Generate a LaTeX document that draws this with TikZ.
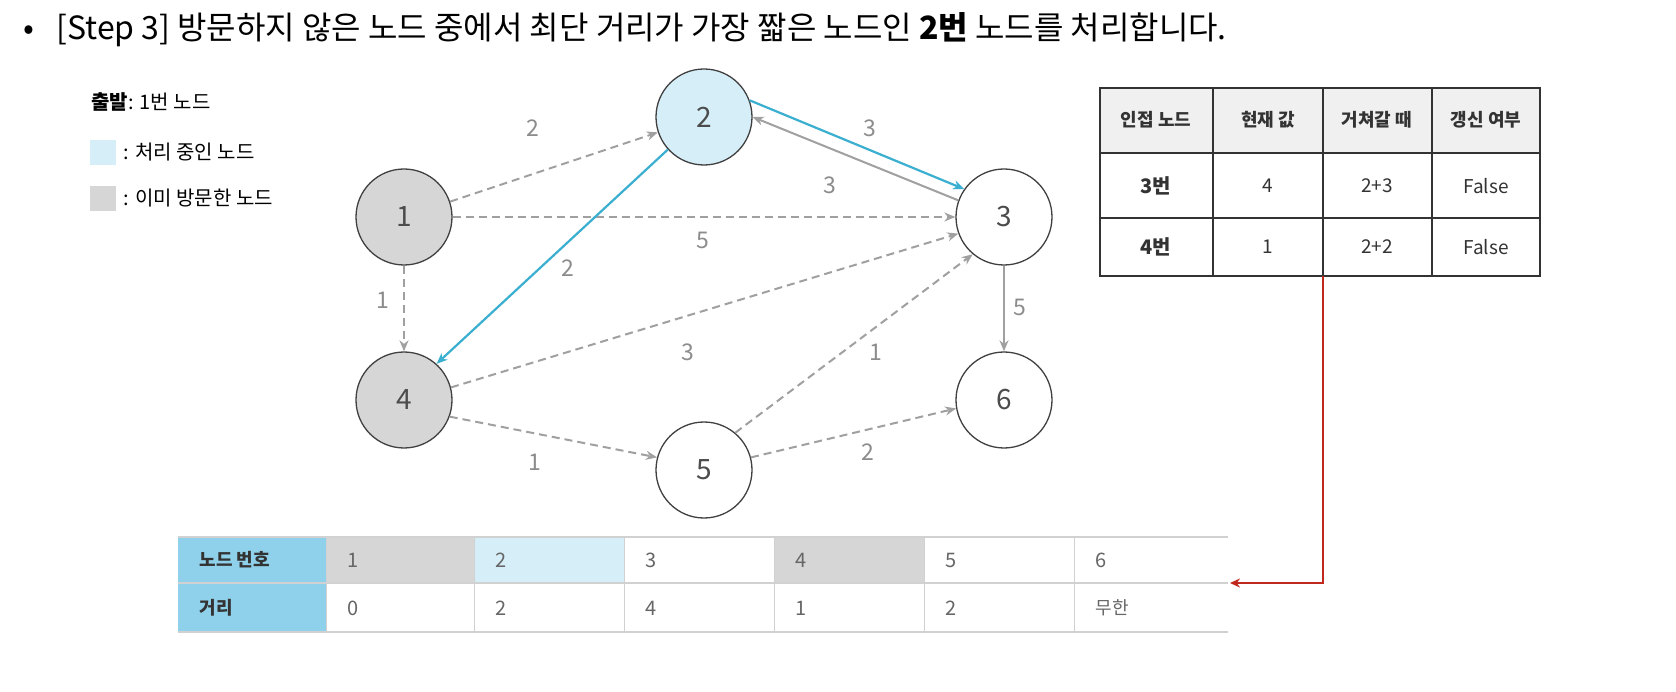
\documentclass[tikz,border=0pt]{standalone}
\usepackage{fontspec}
\setmainfont{Noto Sans CJK KR}
\usetikzlibrary{arrows.meta}
\definecolor{lblue}{HTML}{D6EEF8}
\definecolor{lgray}{HTML}{D6D6D6}
\definecolor{sky}{HTML}{8FD1EA}
\definecolor{edgeg}{HTML}{A0A0A0}
\definecolor{hl}{HTML}{3AAFD0}
\definecolor{redl}{HTML}{C0281E}
\begin{document}
\begin{tikzpicture}[x=1pt,y=-1pt,
 gnode/.style={circle,draw=black!75,line width=1.3pt,minimum size=96pt,inner sep=0pt,font=\fontsize{28}{32}\selectfont,text=black!70},
 dedge/.style={draw=edgeg,dashed,dash pattern=on 8pt off 5pt,line width=2pt,-{Stealth[length=11pt,width=9pt]}},
 sedge/.style={draw=edgeg,line width=2pt,-{Stealth[length=11pt,width=9pt]}},
 bedge/.style={draw=hl,line width=2.2pt,-{Stealth[length=11pt,width=9pt]}},
 wlab/.style={text=black!45,font=\fontsize{23}{26}\selectfont},
 tcell/.style={font=\fontsize{19}{22}\selectfont,text=black!80},
 bcell/.style={font=\fontsize{20}{24}\selectfont,text=black!60,anchor=west}]
\useasboundingbox (0,0) rectangle (1676,692);
\fill[white] (0,0) rectangle (1676,692);
% title
\node[anchor=west,font=\fontsize{32}{36}\selectfont] (title) at (20,30) {•\hspace{22pt}[Step 3] 방문하지 않은 노드 중에서 최단 거리가 가장 짧은 노드인 \textbf{2번} 노드를 처리합니다.};
% legend
\node[anchor=west,font=\fontsize{20}{22}\selectfont] (lg1) at (88,102) {\textbf{출발}: 1번 노드};
\fill[lblue] (90,140) rectangle (116,165);
\node[anchor=west,font=\fontsize{20}{22}\selectfont] (lg2) at (120,152) {: 처리 중인 노드};
\fill[lgray] (90,186) rectangle (116,211);
\node[anchor=west,font=\fontsize{20}{22}\selectfont] (lg3) at (120,198) {: 이미 방문한 노드};
% nodes
\node[gnode,fill=lgray] (n1) at (404,217) {1};
\node[gnode,fill=lblue] (n2) at (704,117) {2};
\node[gnode,fill=white] (n3) at (1004,217) {3};
\node[gnode,fill=lgray] (n4) at (404,400) {4};
\node[gnode,fill=white] (n5) at (704,470) {5};
\node[gnode,fill=white] (n6) at (1004,400) {6};
% edges
\draw[dedge] (n1) -- (n2); \node[wlab] (w12) at (533,128) {2};
\draw[dedge] (n1) -- (n3); \node[wlab] (w13) at (703,240) {5};
\draw[dedge] (n1) -- (n4); \node[wlab] (w14) at (383,300) {1};
\draw[bedge] (n2.20) -- (n3.145); \node[wlab] (w23) at (870,128) {3};
\draw[sedge] (n3.160) -- (n2.0); \node[wlab] (w32) at (830,185) {3};
\draw[bedge] (n2.222) -- (n4.48); \node[wlab] (w24) at (568,268) {2};
\draw[dedge] (n4.15) -- (n3.200); \node[wlab] (w43) at (688,352) {3};
\draw[dedge] (n4.-20) -- (n5.165); \node[wlab] (w45) at (535,462) {1};
\draw[dedge] (n5.50) -- (n3.230); \node[wlab] (w53) at (876,352) {1};
\draw[dedge] (n5.15) -- (n6.190); \node[wlab] (w56) at (868,452) {2};
\draw[sedge] (n3) -- (n6); \node[wlab] (w36) at (1020,307) {5};
% right table
\fill[black!6] (1100,88) rectangle (1540,153);
\draw[black!80,line width=1.2pt] (1100,88) rectangle (1540,276);
\foreach \y in {153,218} \draw[black!80,line width=1.2pt] (1100,\y) -- (1540,\y);
\foreach \x in {1213,1323,1432} \draw[black!80,line width=1.2pt] (\x,88) -- (\x,276);
\node[tcell,font=\bfseries\fontsize{18}{22}\selectfont] (h1) at (1156,120) {인접 노드};
\node[tcell,font=\bfseries\fontsize{18}{22}\selectfont] (h2) at (1268,120) {현재 값};
\node[tcell,font=\bfseries\fontsize{18}{22}\selectfont] (h3) at (1377,120) {거쳐갈 때};
\node[tcell,font=\bfseries\fontsize{18}{22}\selectfont] (h4) at (1486,120) {갱신 여부};
\node[tcell,font=\bfseries\fontsize{20}{24}\selectfont] (a1) at (1156,186) {3번};
\node[tcell] (a2) at (1268,186) {4};
\node[tcell] (a3) at (1377,186) {2+3};
\node[tcell] (a4) at (1486,186) {False};
\node[tcell,font=\bfseries\fontsize{20}{24}\selectfont] (b1) at (1156,247) {4번};
\node[tcell] (b2) at (1268,247) {1};
\node[tcell] (b3) at (1377,247) {2+2};
\node[tcell] (b4) at (1486,247) {False};
% bottom table
\fill[sky] (178,537) rectangle (326,632);
\fill[lgray] (326,537) rectangle (474,583);
\fill[lblue] (474,537) rectangle (624,583);
\fill[lgray] (774,537) rectangle (924,583);
\foreach \y in {537,583,632} \draw[black!18,line width=2pt] (178,\y) -- (1228,\y);
\foreach \x in {326,474,624,774,924,1074} \draw[black!18,line width=1pt] (\x,537) -- (\x,632);
\node[bcell,text=black!80,font=\bfseries\fontsize{18}{22}\selectfont] (c0) at (196,560) {노드 번호};
\node[bcell,text=black!80,font=\bfseries\fontsize{18}{22}\selectfont] (d0) at (196,608) {거리};
\node[bcell] (c1) at (344,560) {1};
\node[bcell] (c2) at (492,560) {2};
\node[bcell] (c3) at (642,560) {3};
\node[bcell] (c4) at (792,560) {4};
\node[bcell] (c5) at (942,560) {5};
\node[bcell] (c6) at (1092,560) {6};
\node[bcell] (d1) at (344,608) {0};
\node[bcell] (d2) at (492,608) {2};
\node[bcell] (d3) at (642,608) {4};
\node[bcell] (d4) at (792,608) {1};
\node[bcell] (d5) at (942,608) {2};
\node[bcell,font=\fontsize{18}{22}\selectfont] (d6) at (1092,608) {무한};
% red connector
\coordinate (rs) at (1323,276);
\coordinate (re) at (1230,583);
\draw[redl,line width=2.2pt,-{Stealth[length=10pt,width=9pt]}] (rs) |- (re);
\end{tikzpicture}
\end{document}
